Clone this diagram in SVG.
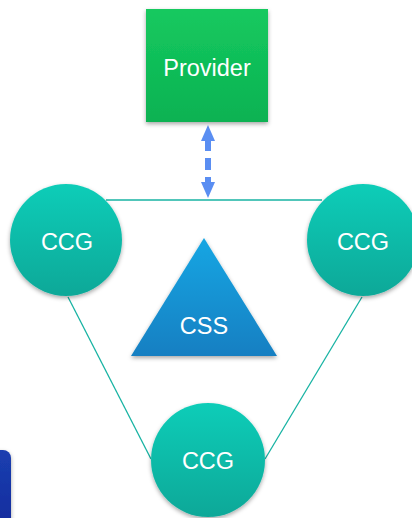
<svg xmlns="http://www.w3.org/2000/svg" width="412" height="518" viewBox="0 0 412 518">
<style>
.lbl{font-family:"Liberation Sans",Arial,sans-serif;font-size:23.5px;fill:#fff;text-anchor:middle}
.edge{stroke:#17b3a3;stroke-width:1.3;fill:none}
.ccg{fill:url(#gTeal);filter:url(#sh)}
</style>
<defs>
<linearGradient id="gGreen" x1="0" y1="0" x2="0" y2="1"><stop offset="0" stop-color="#15c95f"/><stop offset="1" stop-color="#0bb252"/></linearGradient>
<linearGradient id="gTeal" x1="0" y1="0" x2="0" y2="1"><stop offset="0" stop-color="#10cdb8"/><stop offset="1" stop-color="#08a898"/></linearGradient>
<linearGradient id="gBlue" x1="0" y1="0" x2="0" y2="1"><stop offset="0" stop-color="#17a6e3"/><stop offset="1" stop-color="#137fc2"/></linearGradient>
<linearGradient id="gNavy" x1="0" y1="0" x2="0" y2="1"><stop offset="0" stop-color="#1b3fb0"/><stop offset="1" stop-color="#12289a"/></linearGradient>
<filter id="sh" x="-20%" y="-20%" width="140%" height="140%"><feDropShadow dx="0" dy="2" stdDeviation="2" flood-color="#000" flood-opacity="0.35"/></filter>
<marker id="ah" viewBox="0 0 16 14" refX="2" refY="7" markerWidth="16" markerHeight="14" markerUnits="userSpaceOnUse" orient="auto-start-reverse"><polygon points="0,0 16,7 0,14" fill="#5a8ef2"/></marker>
</defs>
<g id="connectors">
<line class="edge" x1="106" y1="200" x2="322" y2="200"/>
<line class="edge" x1="68" y1="297" x2="151" y2="459"/>
<line class="edge" x1="362" y1="297" x2="265" y2="459"/>
<line x1="208" y1="139" x2="208" y2="184" stroke="#5a8ef2" stroke-width="6" stroke-dasharray="12 7" marker-start="url(#ah)" marker-end="url(#ah)"/>
</g>
<g id="navy-shape"><rect x="-20" y="450" width="31" height="90" rx="8" fill="url(#gNavy)" filter="url(#sh)"/></g>
<g id="provider"><rect x="146" y="9" width="122" height="113" fill="url(#gGreen)" filter="url(#sh)"/><text class="lbl" x="207" y="76">Provider</text></g>
<g id="ccg-left"><circle class="ccg" cx="66" cy="240" r="56"/><text class="lbl" x="67" y="250">CCG</text></g>
<g id="ccg-right"><circle class="ccg" cx="363" cy="240" r="56"/><text class="lbl" x="363" y="250">CCG</text></g>
<g id="ccg-bottom"><circle class="ccg" cx="208" cy="460" r="57"/><text class="lbl" x="208" y="469">CCG</text></g>
<g id="css"><polygon points="204,238 277,356 131,356" fill="url(#gBlue)" filter="url(#sh)"/><text class="lbl" x="204" y="334">CSS</text></g>
</svg>
